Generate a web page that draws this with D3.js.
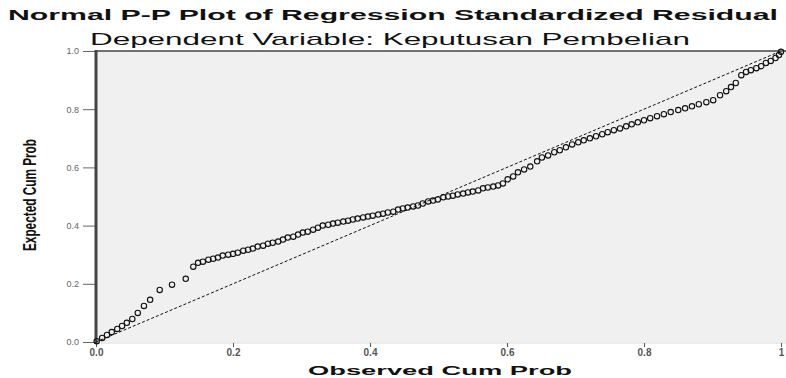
<!DOCTYPE html>
<html>
<head>
<meta charset="utf-8">
<script src="https://cdn.jsdelivr.net/npm/d3@7"></script>
<style>
  body { margin: 0; background: #fff; }
  svg { display: block; }
</style>
</head>
<body>
<div class="chart"></div>
<script>
// observed vs expected cumulative probabilities
const observed = [
  0.001, 0.009, 0.016, 0.023, 0.031, 0.038, 0.045, 0.053, 0.061, 0.070, 0.079, 0.093, 0.111, 0.131, 0.142,
  0.149, 0.156, 0.164, 0.171, 0.178, 0.185, 0.193, 0.200, 0.207, 0.215, 0.222, 0.229, 0.236, 0.244, 0.251,
  0.258, 0.266, 0.273, 0.280, 0.288, 0.295, 0.302, 0.309, 0.317, 0.324, 0.331,
  0.339, 0.346, 0.353, 0.361, 0.368, 0.375, 0.382, 0.390, 0.397, 0.404, 0.412, 0.419, 0.426, 0.434, 0.441,
  0.448, 0.455, 0.463, 0.470, 0.477, 0.485,
  0.492, 0.499, 0.507, 0.514, 0.521, 0.528, 0.536, 0.543, 0.550, 0.558, 0.565, 0.572, 0.580, 0.587, 0.594,
  0.601, 0.609, 0.616, 0.625, 0.634, 0.644, 0.651, 0.660, 0.669, 0.677, 0.686, 0.695, 0.704, 0.712, 0.721,
  0.730, 0.739, 0.747, 0.756, 0.765, 0.774, 0.782, 0.791, 0.800, 0.809, 0.819, 0.829, 0.839, 0.850, 0.860,
  0.870, 0.880, 0.891, 0.901, 0.911, 0.920, 0.927, 0.934, 0.942, 0.949, 0.956, 0.964, 0.971, 0.978, 0.985,
  0.992, 0.997, 1.000
];
const expected = [
  0.003, 0.014, 0.024, 0.034, 0.045, 0.055, 0.066, 0.079, 0.100, 0.124, 0.145, 0.179, 0.197, 0.217, 0.259,
  0.272, 0.276, 0.283, 0.286, 0.290, 0.297, 0.300, 0.303, 0.307, 0.314, 0.317, 0.321, 0.328, 0.331, 0.338,
  0.341, 0.345, 0.352, 0.359, 0.362, 0.369, 0.376, 0.379, 0.386, 0.393, 0.400,
  0.403, 0.407, 0.410, 0.414, 0.417, 0.421, 0.424, 0.428, 0.431, 0.434, 0.438, 0.441, 0.445, 0.448, 0.455,
  0.459, 0.462, 0.466, 0.469, 0.476, 0.483,
  0.486, 0.490, 0.497, 0.500, 0.503, 0.507, 0.510, 0.514, 0.517, 0.521, 0.528, 0.531, 0.534, 0.538, 0.545,
  0.559, 0.569, 0.583, 0.593, 0.603, 0.621, 0.634, 0.641, 0.652, 0.659, 0.669, 0.679, 0.686, 0.693, 0.700,
  0.707, 0.714, 0.721, 0.728, 0.734, 0.741, 0.748, 0.755, 0.762, 0.769, 0.776, 0.783, 0.790, 0.797, 0.803,
  0.810, 0.817, 0.824, 0.831, 0.848, 0.862, 0.876, 0.890, 0.917, 0.928, 0.934, 0.941, 0.948, 0.959, 0.966,
  0.976, 0.986, 0.997
];
const xTicks = [0, 0.2, 0.4, 0.6, 0.8, 1];
const xTickLabels = ["0.0", "0.2", "0.4", "0.6", "0.8", "1"];
const yTicks = [0, 0.2, 0.4, 0.6, 0.8, 1];
const yTickLabels = ["0.0", "0.2", "0.4", "0.6", "0.8", "1.0"];
const diagonal = [[0, 0], [1, 1]];

const titleText = "Normal P-P Plot of Regression Standardized Residual";
const subtitleText = "Dependent Variable: Keputusan Pembelian";

const dimensions = {
    width: 786,
    height: 378,
    margin: {left: 96, right: 5, top: 51, bottom: 36}
};

const points = observed.map((o, i) => ({o, e: expected[i]}));

const svg = d3.select('.chart')
    .append('svg')
    .attr('width', dimensions.width)
    .attr('height', dimensions.height)
    .style('font-family', 'Arial, "Liberation Sans", sans-serif');

const x = d3.scaleLinear()
    .domain([0, 1])
    .range([dimensions.margin.left, dimensions.width - dimensions.margin.right]);

const y = d3.scaleLinear()
    .domain([0, 1])
    .range([dimensions.height - dimensions.margin.bottom, dimensions.margin.top]);

// plot background
svg.append('rect')
    .attr('x', x(0))
    .attr('y', y(1))
    .attr('width', dimensions.width - x(0))
    .attr('height', y(0) - y(1))
    .attr('fill', '#f0f0f0');

// top frame line
svg.append('line')
    .attr('x1', x(0)).attr('x2', dimensions.width)
    .attr('y1', y(1)).attr('y2', y(1))
    .attr('stroke', '#444').attr('stroke-width', 1.5);

svg.append('line')
    .attr('x1', x(0)).attr('x2', dimensions.width)
    .attr('y1', y(0) + 1).attr('y2', y(0) + 1)
    .attr('stroke', '#d8d8d8').attr('stroke-width', 1);

// x axis
svg.append('g')
    .attr('transform', `translate(0,${y(0) + 1})`)
    .call(d3.axisBottom(x).tickValues(xTicks).tickSize(4).tickFormat((d, i) => xTickLabels[i]))
    .call(g => g.select('.domain').remove())
    .call(g => g.selectAll('.tick line').attr('stroke', '#555'))
    .call(g => g.selectAll('.tick text')
        .attr('fill', '#555')
        .attr('dy', '0.6em')
        .style('font-size', '10px')
        .style('font-weight', 'bold'));

// y axis
svg.append('g')
    .attr('transform', `translate(${x(0)},0)`)
    .call(d3.axisLeft(y).tickValues(yTicks).tickSize(13).tickFormat((d, i) => yTickLabels[i]))
    .call(g => g.select('.domain').remove())
    .call(g => g.selectAll('.tick line').attr('stroke', '#666'))
    .call(g => g.selectAll('.tick text')
        .attr('fill', '#666')
        .attr('x', -17)
        .style('font-size', '9px'));

svg.append('line')
    .attr('x1', x(0)).attr('x2', x(0))
    .attr('y1', y(1) - 1).attr('y2', y(0) + 2)
    .attr('stroke', '#444').attr('stroke-width', 3);

// reference diagonal
svg.append('path')
    .datum(diagonal)
    .attr('d', d3.line().x(d => x(d[0])).y(d => y(d[1])))
    .attr('fill', 'none')
    .attr('stroke', '#111')
    .attr('stroke-width', 1)
    .attr('stroke-dasharray', '3,2');

// points
svg.append('g')
    .selectAll('circle')
    .data(points)
    .join('circle')
    .attr('cx', d => x(d.o))
    .attr('cy', d => y(d.e))
    .attr('r', 2.7)
    .attr('fill', 'none')
    .attr('stroke', '#111')
    .attr('stroke-width', 1.1);

// titles
svg.append('text')
    .attr('x', 8).attr('y', 20)
    .attr('textLength', 770).attr('lengthAdjust', 'spacingAndGlyphs')
    .style('font-size', '14px').style('font-weight', 'bold')
    .attr('fill', '#111')
    .text(titleText);

svg.append('text')
    .attr('x', 90).attr('y', 45)
    .attr('textLength', 600).attr('lengthAdjust', 'spacingAndGlyphs')
    .style('font-size', '17px')
    .attr('fill', '#111')
    .text(subtitleText);

svg.append('text')
    .attr('x', 308).attr('y', 375)
    .attr('textLength', 264).attr('lengthAdjust', 'spacingAndGlyphs')
    .style('font-size', '13px').style('font-weight', 'bold')
    .attr('fill', '#111')
    .text('Observed Cum Prob');

svg.append('text')
    .attr('transform', `translate(36,${195}) rotate(-90)`)
    .attr('text-anchor', 'middle')
    .attr('textLength', 112).attr('lengthAdjust', 'spacingAndGlyphs')
    .style('font-size', '18px').style('font-weight', 'bold')
    .attr('fill', '#111')
    .text('Expected Cum Prob');
</script>
</body>
</html>
